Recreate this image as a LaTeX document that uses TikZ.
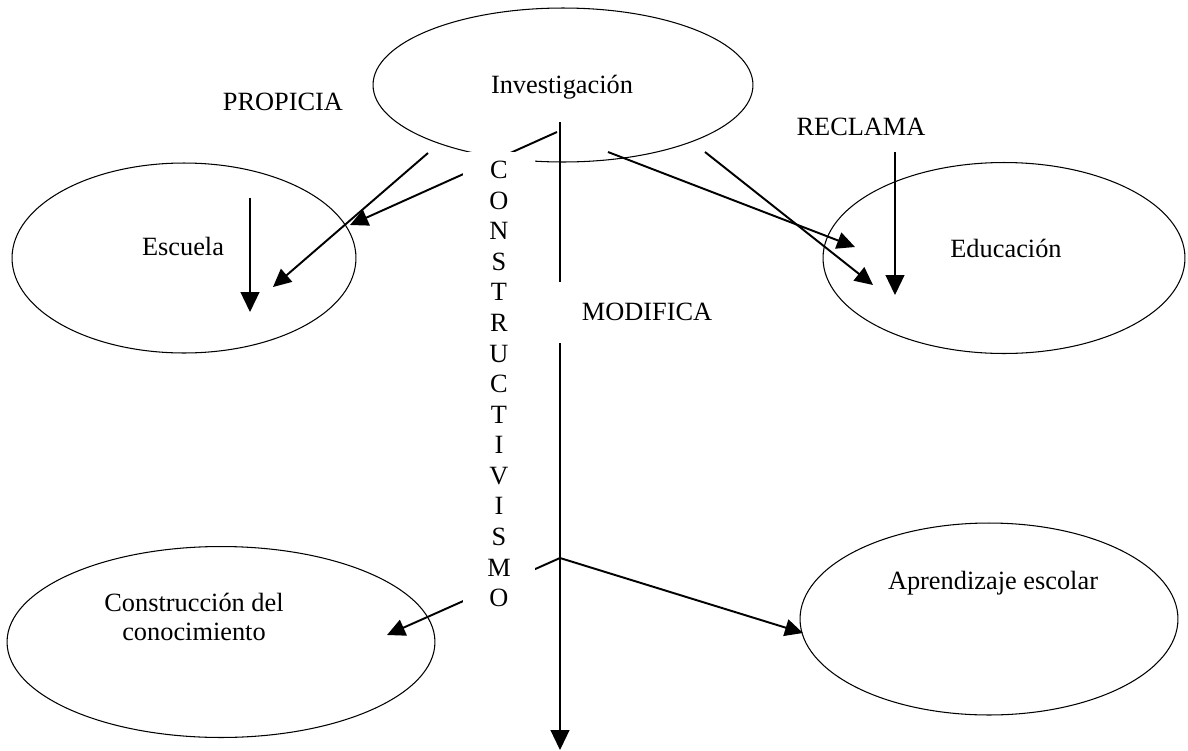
\documentclass[tikz,border=0pt]{standalone}
\usepackage{fontspec}
\setmainfont{Liberation Serif}
\usetikzlibrary{shapes.geometric,arrows.meta}

\begin{document}
\begin{tikzpicture}[x=0.02cm, y=-0.02cm, font=\fontsize{15}{17}\selectfont,
  elipse/.style={draw, ellipse, line width=0.6pt, inner sep=0pt},
  flecha/.style={line width=1.1pt, -{Triangle[length=3.6mm,width=3.4mm]}},
  recta/.style={line width=0.7pt, -{Triangle[length=4mm,width=3.8mm]}}]
\useasboundingbox (0,0) rectangle (1188,751);

\node[elipse, minimum width=7.6cm, minimum height=3.08cm](Inv) at (563,85){};
\node[elipse, minimum width=6.88cm, minimum height=3.8cm](Esc) at (184,258){};
\node[elipse, minimum width=7.24cm, minimum height=3.82cm](Edu) at (1004,258){};
\node[elipse, minimum width=8.56cm, minimum height=3.82cm](Con) at (221,642){};
\node[elipse, minimum width=7.56cm, minimum height=3.84cm](Apr) at (989,619){};

\node (T1) at (562,87){Investigación};
\node (T2) at (183,246){Escuela};
\node (T3) at (1006,248){Educación};
\node (T4) at (194,617)[align=center]{Construcción del\\conocimiento};
\node (T5) at (993,583){Aprendizaje escolar};

\node (L1) at (283,102){PROPICIA};
\node (L2) at (861,127){RECLAMA};
\node (L3) at (647,312){MODIFICA};

\coordinate (p1) at (428,153);
\coordinate (q1) at (273,287);
\coordinate (p2) at (557,132);
\coordinate (q2) at (350,225);
\coordinate (p3) at (250,198);
\coordinate (q3) at (250,312);
\coordinate (p4) at (608,152);
\coordinate (q4) at (855,247);
\coordinate (p5) at (705,152);
\coordinate (q5) at (873,285);
\coordinate (p6) at (895,152);
\coordinate (q6) at (895,295);
\coordinate (v1) at (560,122);
\coordinate (v2) at (560,282);
\coordinate (v3) at (560,343);
\coordinate (v4) at (560,750);
\coordinate (m) at (560,558);
\coordinate (q7) at (387,635);
\coordinate (q8) at (803,633);

\draw[flecha](p1)--(q1);
\draw[flecha](p2)--(q2);
\draw[recta](p3)--(q3);
\draw[flecha](p4)--(q4);
\draw[flecha](p5)--(q5);
\draw[recta](p6)--(q6);
\draw[line width=0.7pt](v1)--(v2);
\draw[recta](v3)--(v4);
\draw[flecha](m)--(q7);
\draw[flecha](m)--(q8);

\node[fill=white, minimum width=1.44cm, minimum height=9.3cm, align=center,
  font=\fontsize{15}{17.4}\selectfont](Ctv) at (499,384)
  {C\\O\\N\\S\\T\\R\\U\\C\\T\\I\\V\\I\\S\\M\\O};
\end{tikzpicture}
\end{document}
